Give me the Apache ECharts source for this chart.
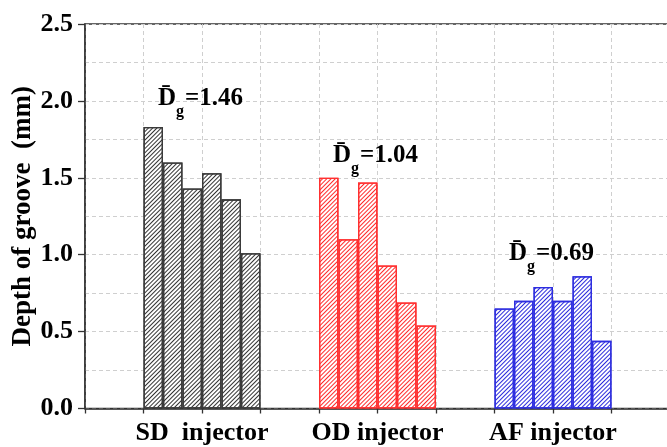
<!DOCTYPE html>
<html><head><meta charset="utf-8">
<script src="https://cdn.jsdelivr.net/npm/echarts@6/dist/echarts.min.js"></script>
<style>html,body{margin:0;padding:0;background:#fff}#c{width:667px;height:447px}</style>
</head><body><div id="c"></div>
<script>
const groupNames = ['SD  injector', 'OD injector', 'AF injector'];
const sdDepth = [1.83, 1.60, 1.43, 1.53, 1.36, 1.01];
const odDepth = [1.50, 1.10, 1.47, 0.93, 0.69, 0.54];
const afDepth = [0.65, 0.70, 0.79, 0.70, 0.86, 0.44];
const meanLabels = ['1.46', '1.04', '0.69'];
const yTicks = [0.0, 0.5, 1.0, 1.5, 2.0, 2.5];

const FONT = '"Times New Roman", "Liberation Serif", serif';
const slots = 30;
const firstSlot = [3, 12, 21];
const labelPos = {2: groupNames[0], 5: groupNames[1], 8: groupNames[2]};
const cats = Array.from({length: slots}, (_, i) => 's' + i);
function place(vals, g) {
  const arr = new Array(slots).fill('-');
  vals.forEach((v, i) => { arr[firstSlot[g] + i] = v; });
  return arr;
}
const styles = [
  {line: '#333333', border: '#3a3a3a'},
  {line: '#ff2a2a', border: '#ff3030'},
  {line: '#2b2bdc', border: '#2e2ee0'}
];
const groups = [sdDepth, odDepth, afDepth];
const series = groups.map((vals, g) => ({
  type: 'bar',
  xAxisIndex: 0,
  data: place(vals, g),
  barWidth: '100%',
  barGap: '-100%',
  itemStyle: {
    color: '#ffffff',
    borderColor: styles[g].border,
    borderWidth: 1.3,
    decal: {
      symbol: 'rect', symbolSize: 1, color: styles[g].line,
      dashArrayX: [1, 0], dashArrayY: [1, 1.6], rotation: -Math.PI / 4
    }
  },
  silent: true,
  animation: false
}));

const annotPos = [[158, 86], [333, 143], [509, 241]];
const graphic = meanLabels.map((m, i) => ({
  type: 'text', left: annotPos[i][0], top: annotPos[i][1], z: 100,
  style: {
    text: '{d|D\u0304}{g|g}{v|=' + m + '}',
    rich: {
      d: {fontFamily: FONT, fontWeight: 'bold', fontSize: 25, lineHeight: 28, verticalAlign: 'top', fill: '#000'},
      g: {fontFamily: FONT, fontWeight: 'bold', fontSize: 16, lineHeight: 28, verticalAlign: 'top', padding: [18, 1, 0, 0], fill: '#000'},
      v: {fontFamily: FONT, fontWeight: 'bold', fontSize: 25, lineHeight: 28, verticalAlign: 'top', fill: '#000'}
    }
  }
}));

const chart = echarts.init(document.getElementById('c'), null, {renderer: 'canvas'});
chart.setOption({
  backgroundColor: '#fff',
  animation: false,
  grid: {left: 85, top: 24, width: 585, height: 384.5, outerBoundsMode: 'none', containLabel: false,
    show: true, borderColor: '#333', borderWidth: 1.5, backgroundColor: 'transparent'},
  xAxis: [
    {type: 'category', data: cats, boundaryGap: true, show: false},
    {type: 'value', min: 0, max: 10, interval: 1, position: 'bottom',
      axisLine: {show: true, onZero: false, lineStyle: {color: '#333', width: 1.5}},
      axisTick: {show: true, inside: false, length: 5, lineStyle: {color: '#333', width: 1.3}},
      axisLabel: {show: true, margin: 12, color: '#000', fontFamily: FONT, fontWeight: 'bold', fontSize: 26,
        formatter: v => labelPos[Math.round(v)] || '', showMinLabel: true, showMaxLabel: true},
      splitLine: {show: true, lineStyle: {color: '#cfcfcf', type: [4, 3], width: 1}}
    }
  ],
  yAxis: {
    type: 'value', min: 0, max: 2.5, interval: 0.5,
    name: 'Depth of groove  (mm)', nameLocation: 'middle', nameGap: 48, nameRotate: 90, nameMoveOverlap: false,
    nameTextStyle: {fontFamily: FONT, fontWeight: 'bold', fontSize: 27, color: '#000'},
    axisLine: {show: true, lineStyle: {color: '#333', width: 1.5}},
    axisTick: {show: true, inside: false, length: 7, lineStyle: {color: '#333', width: 1.3}},
    axisLabel: {margin: 12, color: '#000', fontFamily: FONT, fontWeight: 'bold', fontSize: 26,
      formatter: v => yTicks.some(t => Math.abs(t - v) < 1e-9) ? v.toFixed(1) : ''},
    splitLine: {show: true, lineStyle: {color: '#cfcfcf', type: [4, 3], width: 1}},
    minorTick: {show: false, splitNumber: 2},
    minorSplitLine: {show: true, lineStyle: {color: '#cfcfcf', type: [4, 3], width: 1}}
  },
  series: series,
  graphic: graphic
});
</script></body></html>
